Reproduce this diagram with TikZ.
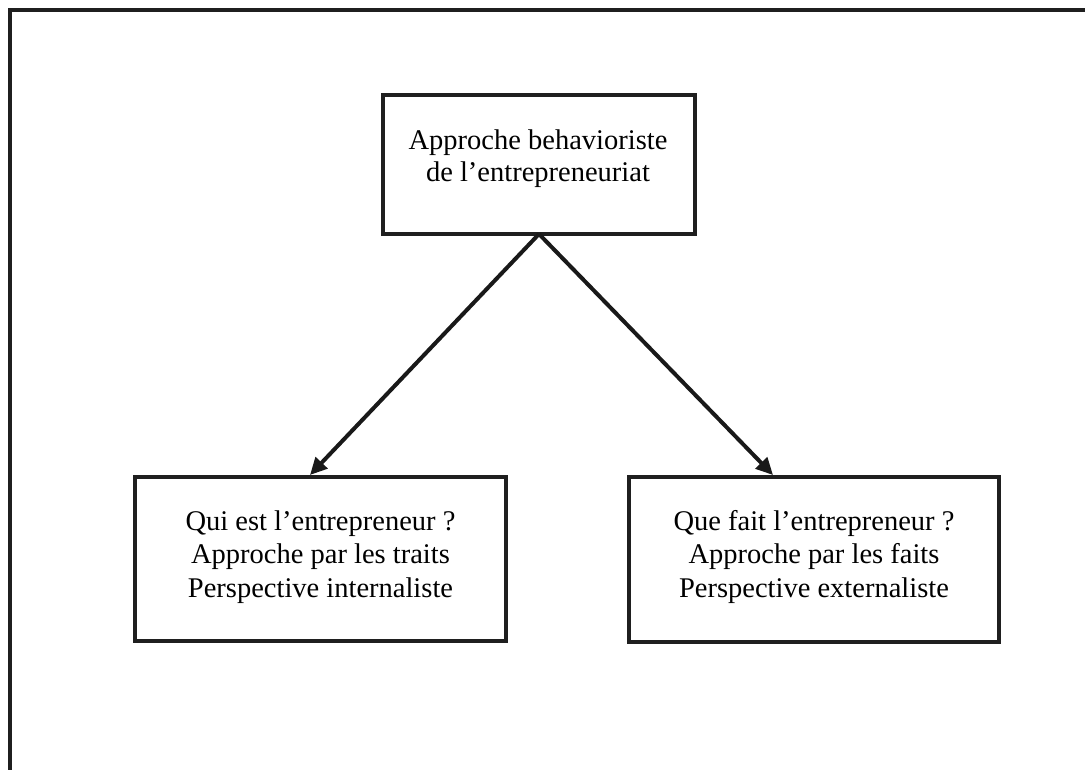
\documentclass[tikz,border=0pt]{standalone}
\usepackage{fontspec}
\setmainfont{Liberation Serif}
\usetikzlibrary{arrows.meta}
\begin{document}
\begin{tikzpicture}[x=1pt,y=-1pt,
  boxstyle/.style={draw=black!88, line width=4pt, inner sep=0pt, outer sep=0pt},
  txt/.style={align=center, font=\fontsize{28.5}{32}\selectfont, inner sep=0pt, anchor=base},
  txtb/.style={txt, font=\fontsize{28.5}{33.5}\selectfont},
  link/.style={draw=black!90, line width=4pt, -{Triangle[length=17pt,width=16pt]}}]
\useasboundingbox (0,0) rectangle (1085,769);
\draw[line width=4pt, draw=black!88] (10,771) -- (10,10) -- (1087,10);
\node[boxstyle, minimum width=312pt, minimum height=139pt] (top) at (539,164.5) {};
\node[boxstyle, minimum width=371pt, minimum height=164pt] (left) at (320.5,559) {};
\node[boxstyle, minimum width=370pt, minimum height=165pt] (right) at (814,559.5) {};
\node[txt] (toptext) at (538,181) {Approche behavioriste\\de l’entrepreneuriat};
\node[txtb] (lefttext) at (320.5,597) {Qui est l’entrepreneur ?\\Approche par les traits\\Perspective internaliste};
\node[txtb] (righttext) at (814,597) {Que fait l’entrepreneur ?\\Approche par les faits\\Perspective externaliste};
\coordinate (ltip) at (310,475);
\coordinate (rtip) at (773,475);
\draw[link] (top.south) -- (ltip);
\draw[link] (top.south) -- (rtip);
\end{tikzpicture}
\end{document}
